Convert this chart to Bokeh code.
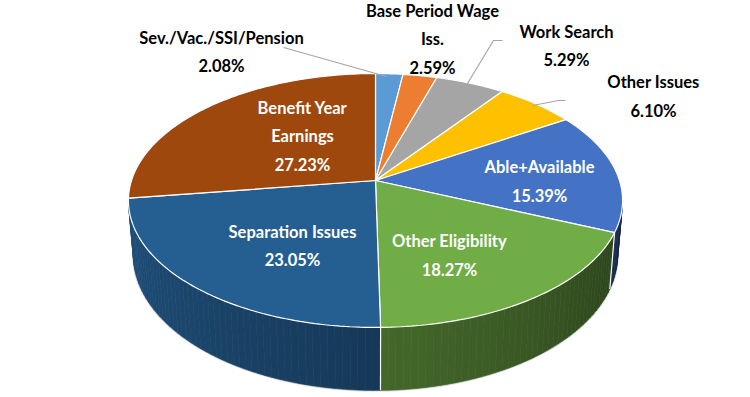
import math
from bokeh.plotting import figure
from bokeh.models import Range1d, ColumnDataSource
from bokeh.embed import file_html
from bokeh.resources import INLINE
from bokeh.core.properties import value

# ---------------- data ----------------
categories = ["Sev./Vac./SSI/Pension", "Base Period Wage Iss.", "Work Search", "Other Issues",
              "Able+Available", "Other Eligibility", "Separation Issues", "Benefit Year Earnings"]
shares = [2.08, 2.59, 5.29, 6.10, 15.39, 18.27, 23.05, 27.23]
label_names = ["Sev./Vac./SSI/Pension", "Base Period Wage\nIss.", "Work Search", "Other Issues",
               "Able+Available", "Other Eligibility", "Separation Issues", "Benefit Year\nEarnings"]
colors = ["#5B9BD5", "#ED7D31", "#A5A5A5", "#FFC000", "#4472C4", "#70AD47", "#255E91", "#9E480E"]

# ---------------- layout ----------------
label_x = [221, 432, 566, 653, 539, 449, 292, 302]
label_y = [51.5, 39, 45.5, 96, 181, 255, 245.5, 136]
label_inside = [False, False, False, False, True, True, True, True]
leader_xs = [[283, 386], [], [502, 493, 467], [565, 558, 532]]
leader_ys = [[47, 76], [], [40, 40, 83], [100, 100, 105]]

CX, CY = 375.0, 180.0
A, B, K = 244.0, 123.8, 0.1575
HS = 53.0
BSX = 0.98
WALL_LO, WALL_HI = 99.0, 261.0


def top_pt(theta, r=1.0):
    t = math.radians(theta)
    u = r * math.sin(t)
    v = -r * math.cos(t)
    d = 1 - K * v
    return CX + A * u / d, CY + B * v / d


def bot_pt(theta):
    t = math.radians(theta)
    u = math.sin(t)
    v = -math.cos(t)
    d = 1 - K * v
    return CX + BSX * A * u / d, CY + (B * v + HS) / d


def shade(hexc, f):
    h = hexc.lstrip("#")
    r, g, b = int(h[0:2], 16), int(h[2:4], 16), int(h[4:6], 16)
    return "#%02x%02x%02x" % (int(r * f), int(g * f), int(b * f))


total = sum(shares)
bounds = [0.0]
for s in shares:
    bounds.append(bounds[-1] + s / total * 360.0)

p = figure(width=750, height=397, x_range=Range1d(0, 750), y_range=Range1d(397, 0),
           toolbar_location=None, output_backend="svg", min_border=0,
           x_axis_location=None, y_axis_location=None, outline_line_color=None)
p.grid.visible = False
p.background_fill_color = "white"

# bottom soft edge
bx, by = [], []
n = 80
for i in range(n + 1):
    th = WALL_LO + (WALL_HI - WALL_LO) * i / n
    x, y = bot_pt(th)
    bx.append(x)
    by.append(y)
p.line(bx, by, line_color="#d4d4d4", line_width=2.5)

# side walls (strips with shading)
wxs, wys, wcs = [], [], []
for i, c in enumerate(colors):
    a0, a1 = max(bounds[i], WALL_LO), min(bounds[i + 1], WALL_HI)
    if a1 <= a0:
        continue
    steps = max(1, int((a1 - a0) / 1.5))
    for j in range(steps):
        ta = a0 + (a1 - a0) * j / steps
        tb = a0 + (a1 - a0) * (j + 1) / steps
        pa, pb = top_pt(ta), top_pt(tb)
        qa, qb = bot_pt(ta), bot_pt(tb)
        wxs.append([pa[0], pb[0], qb[0], qa[0]])
        wys.append([pa[1], pb[1], qb[1], qa[1]])
        tm = ((ta + tb) / 2 - WALL_LO) / (WALL_HI - WALL_LO)
        wcs.append(shade(c, 0.36 + 0.5 * tm))
p.patches(xs=wxs, ys=wys, fill_color=wcs, line_color=wcs, line_width=0.7)

# white dividers on the wall
dxs, dys = [], []
for bd in bounds[1:-1]:
    if WALL_LO < bd < WALL_HI:
        pt, pb_ = top_pt(bd), bot_pt(bd)
        dxs.append([pt[0], pb_[0]])
        dys.append([pt[1], pb_[1]])
p.multi_line(dxs, dys, line_color="white", line_width=1.2)

# top faces
txs, tys = [], []
for i in range(len(shares)):
    a0, a1 = bounds[i], bounds[i + 1]
    steps = max(2, int((a1 - a0) / 1.0))
    xs, ys = [CX], [CY]
    for j in range(steps + 1):
        x, y = top_pt(a0 + (a1 - a0) * j / steps)
        xs.append(x)
        ys.append(y)
    txs.append(xs)
    tys.append(ys)
p.patches(xs=txs, ys=tys, fill_color=colors, line_color="white", line_width=1.2)

# leader lines
lx = [l for l in leader_xs if l]
ly = [l for l in leader_ys if l]
p.multi_line(lx, ly, line_color="#a6a6a6", line_width=1.2)

# labels
texts = [f"{n}\n{s:.2f}%" for n, s in zip(label_names, shares)]
tcol = ["white" if ins else "black" for ins in label_inside]
src = ColumnDataSource(dict(x=label_x, y=label_y, t=texts, c=tcol))
p.text(x="x", y="y", text="t", text_color="c", source=src, text_font=value("Lato"),
       text_font_style="bold", text_font_size="16.5px", text_align="center",
       text_baseline="middle", text_line_height=1.42)

open("out.html", "w").write(file_html(p, INLINE))
